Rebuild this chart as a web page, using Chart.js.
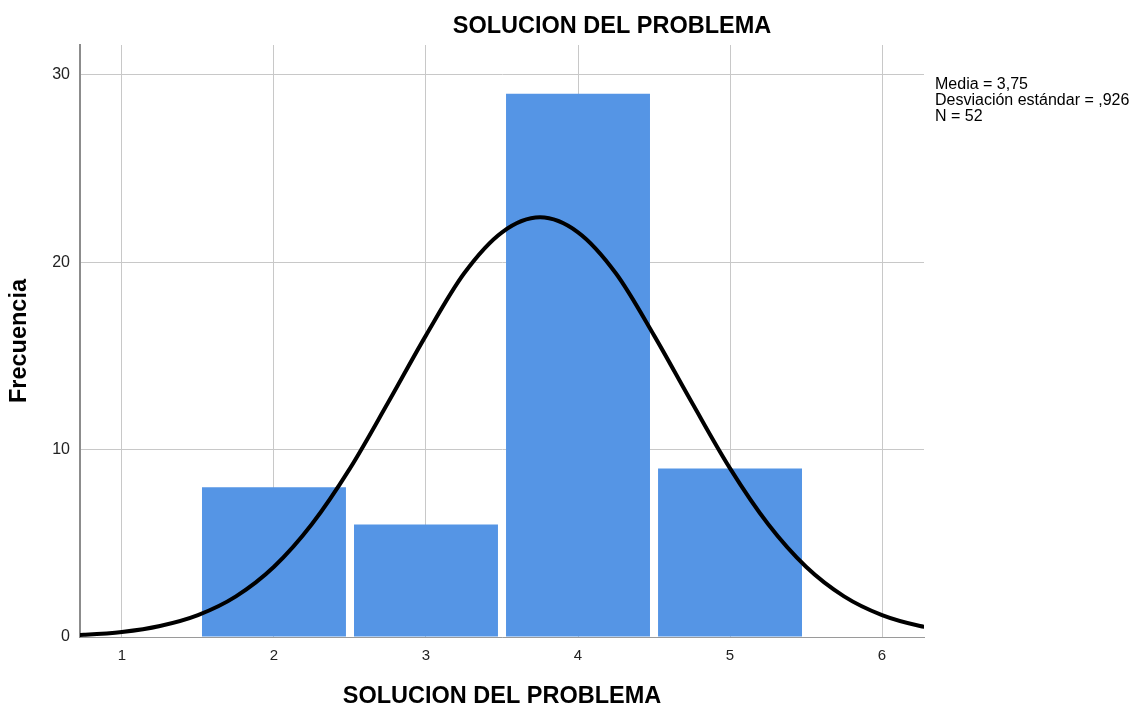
<!DOCTYPE html>
<html>
<head>
<meta charset="utf-8">
<script src="https://cdn.jsdelivr.net/npm/chart.js@4/dist/chart.umd.min.js"></script>
<style>
  body { margin: 0; background: #fff; }
  #wrap { width: 1132px; height: 707px; }
</style>
</head>
<body>
<div id="wrap"><canvas id="hist" width="1132" height="707"></canvas></div>
<script>
// ---------- DATA ----------
const binCenters = [2, 3, 4, 5];
const frequencies = [8, 6, 29, 9];

// normal curve
const curveX = [0.5, 0.75, 1, 1.25, 1.5, 1.75, 2, 2.25, 2.5, 2.75, 3, 3.25, 3.5, 3.75,
                4, 4.25, 4.5, 4.75, 5, 5.25, 5.5, 5.75, 6, 6.25, 6.5];
const curveY = [0.05, 0.12, 0.27, 0.59, 1.17, 2.17, 3.75, 6.03, 9.0, 12.5, 16.1, 19.4, 21.6, 22.4,
                21.6, 19.4, 16.1, 12.5, 9.0, 6.03, 3.75, 2.17, 1.17, 0.59, 0.27];

const xTicks = [1, 2, 3, 4, 5, 6];
const yTicks = [0, 10, 20, 30];

const chartTitle = "SOLUCION DEL PROBLEMA";
const xTitle = "SOLUCION DEL PROBLEMA";
const yTitle = "Frecuencia";
const statsLines = ["Media = 3,75", "Desviación estándar = ,926", "N = 52"];

const FONT = '"Liberation Sans", Arial, sans-serif';

// ---------- TEXT PLUGIN ----------
const textPlugin = {
  id: "texts",
  afterDraw(chart) {
    const ctx = chart.ctx;
    ctx.save();
    ctx.fillStyle = "#000";
    ctx.textBaseline = "middle";
    ctx.textAlign = "center";
    ctx.font = "bold 23.5px " + FONT;
    ctx.fillText(chartTitle, 612, 27);
    ctx.textAlign = "left";
    ctx.font = "16px " + FONT;
    statsLines.forEach((t, i) => ctx.fillText(t, 935, 85 + i * 16));
    ctx.restore();
  }
};

new Chart(document.getElementById("hist"), {
  data: {
    datasets: [
      {
        type: "line",
        data: curveX.map((x, i) => ({ x, y: curveY[i] })),
        borderColor: "#000",
        borderWidth: 4,
        pointRadius: 0,
        cubicInterpolationMode: "monotone",
        fill: false,
        order: 0
      },
      {
        type: "bar",
        data: binCenters.map((x, i) => ({ x, y: frequencies[i] })),
        backgroundColor: "#5595e5",
        borderWidth: 0,
        barPercentage: 0.947,
        categoryPercentage: 1,
        order: 1
      }
    ]
  },
  options: {
    responsive: false,
    animation: false,
    layout: { padding: { top: 45, right: 208, left: 0, bottom: 0 } },
    plugins: { legend: { display: false }, tooltip: { enabled: false } },
    scales: {
      x: {
        type: "linear",
        min: 0.724,
        max: 6.276,
        offset: false,
        afterBuildTicks: s => { s.ticks = xTicks.map(v => ({ value: v })); },
        afterFit: s => { s.height = 70; },
        grid: { color: "#c8c8c8", lineWidth: 1, drawTicks: false, offset: false },
        border: { color: "#9a9a9a", width: 1 },
        ticks: { color: "#222", padding: 10, font: { family: FONT, size: 15 } },
        title: { display: true, text: xTitle, color: "#000", padding: 0,
                 font: { family: FONT, size: 23.5, weight: "bold", lineHeight: 0.85 } }
      },
      y: {
        min: 0,
        max: 31.6,
        afterBuildTicks: s => { s.ticks = yTicks.map(v => ({ value: v })); },
        afterFit: s => { s.width = 80; },
        grid: { color: "#c8c8c8", lineWidth: 1, drawTicks: false },
        border: { color: "#8c8c8c", width: 2 },
        ticks: { color: "#222", padding: 10, font: { family: FONT, size: 16 } },
        title: { display: true, text: yTitle, color: "#000", padding: { top: 10 },
                 font: { family: FONT, size: 23.5, weight: "bold", lineHeight: 0.85 } }
      }
    }
  },
  plugins: [textPlugin]
});
</script>
</body>
</html>
